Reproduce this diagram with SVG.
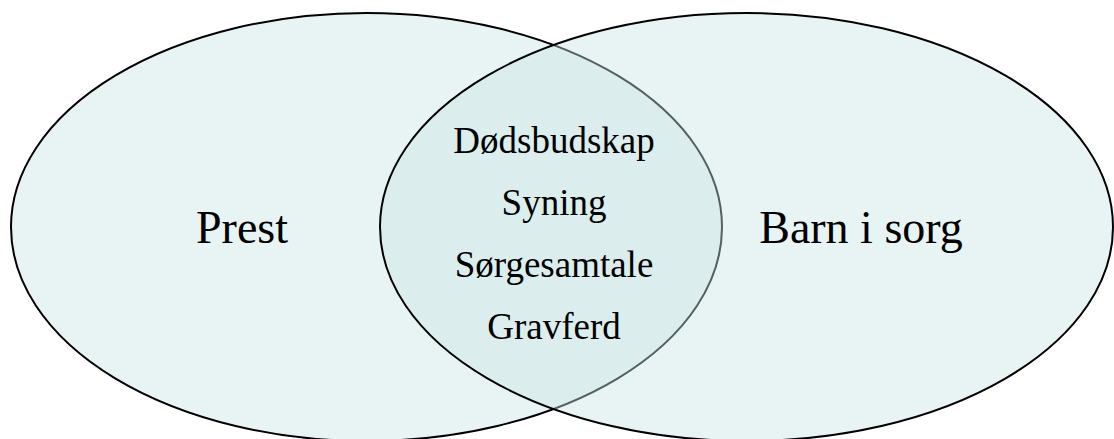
<svg xmlns="http://www.w3.org/2000/svg" width="1114" height="439" viewBox="0 0 1114 439">
<style>
.lbl{font-family:"Liberation Serif","Times New Roman",serif;fill:#000;text-anchor:middle}
.big{font-size:46px}
.small{font-size:37px}
</style>
<rect width="1114" height="439" fill="#ffffff"/>
<g id="prest">
<ellipse cx="366.5" cy="227" rx="355.5" ry="214" fill="#e8f4f4" stroke="#000" stroke-width="2"/>
</g>
<g id="barn-i-sorg">
<ellipse cx="746.5" cy="227" rx="366.5" ry="214" fill="#c8e4e2" fill-opacity="0.42" stroke="#000" stroke-width="2"/>
</g>
<g id="labels">
<text class="lbl big" x="242" y="243">Prest</text>
<text class="lbl big" x="861" y="243">Barn i sorg</text>
</g>
<g id="overlap">
<text class="lbl small" x="554" y="153">Dødsbudskap</text>
<text class="lbl small" x="554" y="215">Syning</text>
<text class="lbl small" x="554" y="277">Sørgesamtale</text>
<text class="lbl small" x="554" y="339">Gravferd</text>
</g>
<g id="connectors"></g>
</svg>
